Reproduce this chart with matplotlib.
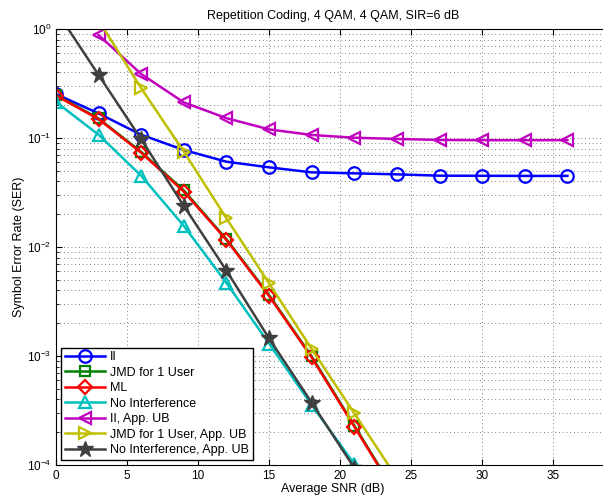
import numpy as np
import matplotlib
matplotlib.use("Agg")
import matplotlib.pyplot as plt
from matplotlib.ticker import LogLocator, NullFormatter, MultipleLocator

plt.rcParams['font.family'] = ['Liberation Sans', 'DejaVu Sans']

snr = [0, 3, 6, 9, 12, 15, 18, 21, 24, 27, 30, 33, 36]

ser_ii = [0.253, 0.168, 0.107, 0.0776, 0.0606, 0.0538, 0.0484, 0.0474, 0.0464,
          0.0451, 0.0450, 0.0449, 0.0449]
ser_jmd = [0.248, 0.151, 0.0745, 0.0330, 0.0118, 0.00362, 9.9e-4, 2.30e-4, 5.3e-5]
ser_ml = [0.245, 0.149, 0.0733, 0.0322, 0.0116, 0.00355, 9.7e-4, 2.25e-4, 5.2e-5]
ser_noint = [0.214, 0.107, 0.045, 0.0156, 0.00468, 0.0013, 3.55e-4, 1.02e-4]

snr_ub_ii = [3, 6, 9, 12, 15, 18, 21, 24, 27, 30, 33, 36]
ub_ii = [0.88, 0.386, 0.212, 0.152, 0.120, 0.1066, 0.1006, 0.098, 0.096,
         0.0955, 0.0955, 0.0955]
snr_ub_jmd = [3, 6, 9, 12, 15, 18, 21, 24]
ub_jmd = [1.2, 0.286, 0.0749, 0.0183, 0.00464, 0.00116, 2.98e-4, 7.6e-5]
ub_noint = [1.48, 0.378, 0.0973, 0.0238, 0.00607, 0.00145, 3.73e-4, 9.4e-5]

fig = plt.figure(figsize=(6.03, 5.01), dpi=100)
ax = fig.add_axes([56 / 603, 36 / 501, 554 / 603, 436 / 501])

kw = dict(linewidth=1.8, markersize=9, markeredgewidth=1.6, markerfacecolor='none')
ax.semilogy(snr, ser_ii, '-o', color=(0, 0, 1), label='II', **kw)
ax.semilogy(snr[:len(ser_jmd)], ser_jmd, '-s', color=(0, 0.5, 0), label='JMD for 1 User',
            linewidth=1.8, markersize=7.5, markeredgewidth=1.6, markerfacecolor='none')
ax.semilogy(snr[:len(ser_ml)], ser_ml, '-D', color=(1, 0, 0), label='ML',
            linewidth=1.8, markersize=7.5, markeredgewidth=1.6, markerfacecolor='none')
ax.semilogy(snr[:len(ser_noint)], ser_noint, '-^', color=(0, 0.75, 0.75),
            label='No Interference', **kw)
ax.semilogy(snr_ub_ii, ub_ii, '-<', color=(0.75, 0, 0.75), label='II, App. UB', **kw)
# markers of points above the axes are not drawn (as in the original tool)
ax.semilogy(snr_ub_jmd, ub_jmd, '->', color=(0.75, 0.75, 0),
            label='JMD for 1 User, App. UB', markevery=slice(1, None), **kw)
ax.semilogy(snr[:len(ub_noint)], ub_noint, '-*', color=(0.25, 0.25, 0.25),
            label='No Interference, App. UB', linewidth=1.8, markersize=12)

ax.set_xlim(0, 39)
ax.set_ylim(1e-4, 1)
ax.xaxis.set_major_locator(MultipleLocator(5))
ax.yaxis.set_major_locator(LogLocator(base=10, numticks=10))
ax.yaxis.set_minor_locator(LogLocator(base=10, subs=np.arange(2, 10), numticks=10))
ax.yaxis.set_minor_formatter(NullFormatter())
ax.tick_params(which='both', direction='in', top=True, right=False, labelsize=8.5)
ax.tick_params(which='major', length=4)
ax.tick_params(which='minor', length=2)
grid_kw = dict(linestyle=(0, (1, 3.5)), color='#555555', linewidth=0.6)
ax.grid(True, which='major', **grid_kw)
ax.grid(True, which='minor', axis='y', **grid_kw)
ax.spines['right'].set_visible(False)

ax.set_title('Repetition Coding, 4 QAM, 4 QAM, SIR=6 dB', fontsize=9, pad=7)
ax.set_xlabel('Average SNR (dB)', fontsize=9, labelpad=1)
ax.set_ylabel('Symbol Error Rate (SER)', fontsize=9, labelpad=1)

leg = ax.legend(loc='lower left', fontsize=9, fancybox=False, edgecolor='black',
                framealpha=1, borderaxespad=0.4, handlelength=3.2, labelspacing=0.28,
                borderpad=0.3, handletextpad=0.4)
leg.get_frame().set_linewidth(1.0)

fig.savefig('out.png', dpi=100)
